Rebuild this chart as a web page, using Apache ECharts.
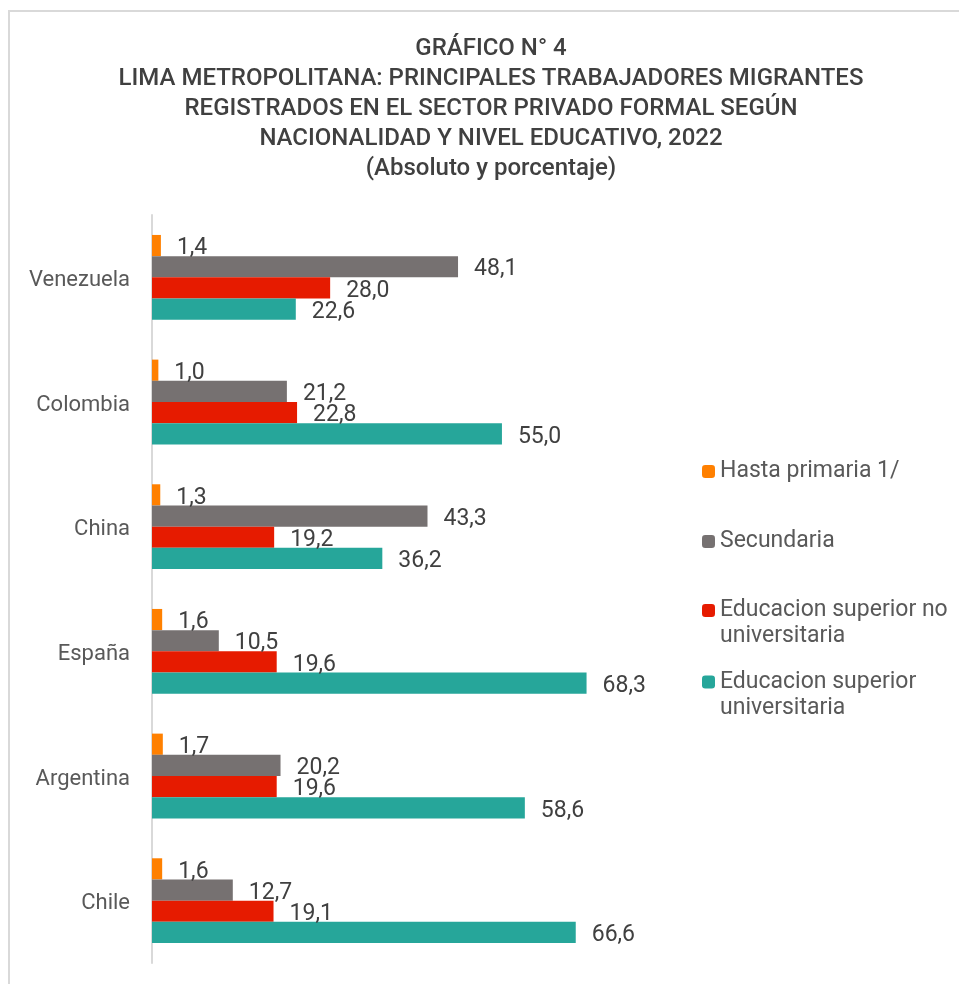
<!DOCTYPE html>
<html>
<head>
<meta charset="utf-8">
<script src="https://cdn.jsdelivr.net/npm/echarts@6/dist/echarts.min.js"></script>
<style>
  html, body { margin: 0; padding: 0; background: #fff; }
  #chart { width: 959px; height: 984px; }
</style>
</head>
<body>
<div id="chart"></div>
<script>
// datos
const paises = ['Venezuela', 'Colombia', 'China', 'España', 'Argentina', 'Chile'];
const nombresSeries = [
    'Hasta primaria 1/',
    'Secundaria',
    'Educacion superior no\nuniversitaria',
    'Educacion superior\nuniversitaria'
];
const hastaPrimaria = [1.4, 1.0, 1.3, 1.6, 1.7, 1.6];
const secundaria = [48.1, 21.2, 43.3, 10.5, 20.2, 12.7];
const superiorNoUniv = [28.0, 22.8, 19.2, 19.6, 19.6, 19.1];
const superiorUniv = [22.6, 55.0, 36.2, 68.3, 58.6, 66.6];

const colores = ['#FF8000', '#767171', '#E61B00', '#26A69A'];
const valores = [hastaPrimaria, secundaria, superiorNoUniv, superiorUniv];

const chart = echarts.init(document.getElementById('chart'));

const fuente = 'Roboto';

// una leyenda por serie para poder ubicar cada una
const leyendaTop = [458.5, 528.5, 571.5, 643];
const leyendas = nombresSeries.map(function (n, i) {
    const dosLineas = n.indexOf('\n') >= 0;
    return {
        data: [n],
        orient: 'vertical',
        left: 702,
        top: leyendaTop[i],
        padding: 0,
        itemWidth: 13,
        itemHeight: 13,
        selectedMode: false,
        // el marcador queda en la primera linea, como en Excel
        formatter: function (name) {
            return dosLineas ? '\n' + name : name;
        },
        textStyle: {
            fontFamily: fuente,
            fontSize: 23,
            lineHeight: 26,
            color: '#595959'
        }
    };
});

const option = {
    backgroundColor: '#fff',
    animation: false,
    title: {
        text: 'GRÁFICO N° 4\nLIMA METROPOLITANA: PRINCIPALES TRABAJADORES MIGRANTES\nREGISTRADOS EN EL SECTOR PRIVADO FORMAL SEGÚN\nNACIONALIDAD Y NIVEL EDUCATIVO, 2022\n(Absoluto y porcentaje)',
        left: 491,
        textAlign: 'center',
        top: 34,
        padding: 0,
        textStyle: {
            fontFamily: fuente,
            fontSize: 24,
            fontWeight: 500,
            lineHeight: 30,
            color: '#404040'
        }
    },
    legend: leyendas,
    graphic: [{
        type: 'rect',
        shape: { x: 9, y: 11, width: 1000, height: 1000 },
        style: { fill: null, stroke: '#D9D9D9', lineWidth: 2 },
        silent: true
    }],
    grid: { left: 152, right: 298, top: 215, bottom: 21, containLabel: false },
    xAxis: {
        type: 'value',
        min: 0,
        max: 80,
        show: false,
        splitLine: { show: false }
    },
    yAxis: {
        type: 'category',
        data: paises,
        inverse: true,
        axisLine: { lineStyle: { color: '#D9D9D9', width: 2 } },
        axisTick: { show: false },
        axisLabel: {
            margin: 22,
            formatter: function (v) {
                return '{p|' + v + '}';
            },
            rich: {
                p: {
                    fontFamily: fuente,
                    fontSize: 22,
                    color: '#595959',
                    padding: [6, 0, 0, 0]
                }
            }
        }
    },
    series: valores.map(function (v, i) {
        return {
            name: nombresSeries[i],
            type: 'bar',
            data: v,
            barGap: 0,
            barCategoryGap: '32%',
            itemStyle: { color: colores[i] },
            label: {
                show: true,
                position: 'right',
                distance: 16,
                offset: [0, 3],
                fontFamily: fuente,
                fontSize: 23,
                color: '#404040',
                formatter: function (p) {
                    return p.value.toFixed(1).replace('.', ',');
                }
            }
        };
    })
};

chart.setOption(option);
</script>
</body>
</html>
